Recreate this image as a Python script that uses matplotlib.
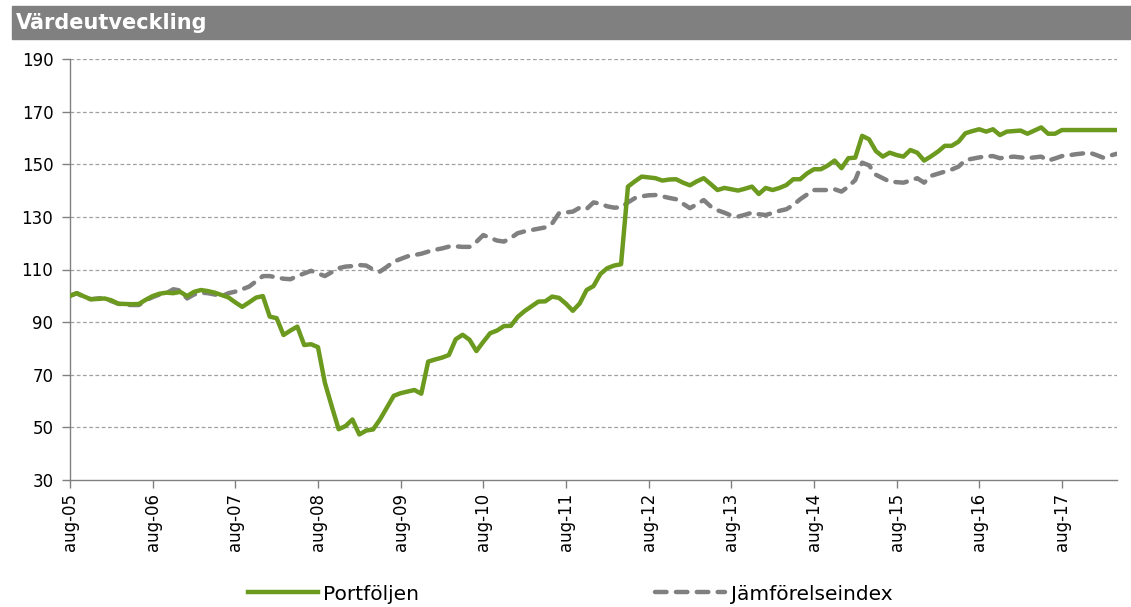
import numpy as np
import matplotlib
matplotlib.use("Agg")
import matplotlib.pyplot as plt
from matplotlib.patches import Rectangle

# monthly index values, aug-05 .. dec-17
portfoljen = [
    100, 101, 99.8, 98.7, 98.8, 99, 98.3, 97, 96.9, 96.8,
    96.9, 98.5, 99.9, 100.8, 101.2, 101, 101.5, 99.9, 101.5, 102.2,
    101.8, 101.2, 100.3, 99.4, 97.5, 95.8, 97.5, 99.3, 99.9, 92.1,
    91.5, 85.1, 86.8, 88.3, 81.3, 81.6, 80.5, 67, 58, 49.3,
    50.5, 53, 47.3, 48.8, 49.2, 53, 57.5, 62, 63, 63.6,
    64.2, 62.8, 75, 75.8, 76.5, 77.5, 83.5, 85.2, 83.3, 79,
    82.5, 85.8, 86.8, 88.5, 88.6, 92, 94.2, 96, 97.8, 97.9,
    99.7, 99.2, 97, 94.3, 97.1, 102.2, 103.7, 108.3, 110.5, 111.5,
    112, 141.5, 143.5, 145.3, 145, 144.7, 143.8, 144.2, 144.3, 143,
    142, 143.5, 144.7, 142.5, 140.2, 141, 140.5, 140, 140.7, 141.5,
    138.7, 141, 140.2, 141, 142.1, 144.3, 144.3, 146.5, 148.1, 148.1,
    149.5, 151.4, 148.5, 152.3, 152.5, 160.8, 159.5, 155, 152.9, 154.4,
    153.5, 152.9, 155.4, 154.4, 151.4, 153, 154.8, 157, 157, 158.6,
    161.8, 162.6, 163.3, 162.4, 163.3, 161.1, 162.4, 162.6, 162.8, 161.6,
    162.8, 164, 161.6, 161.6, 163, 163, 163, 163, 163, 163,
    163, 163, 163,
]
jamforelseindex = [
    100, 101, 99.5, 98.7, 99, 99.2, 98, 97, 96.5, 96.5,
    96.5, 98.3, 99.5, 100.5, 101, 102.5, 102, 99, 100.5, 101.2,
    101, 100.5, 99.8, 101, 101.6, 102.5, 103.5, 105.5, 107.5, 107.5,
    107, 106.5, 106.3, 107.5, 108.5, 109.5, 108.5, 107.5, 109, 110.5,
    111.1, 111.3, 111.7, 111.5, 110, 109.2, 111, 113, 114, 115,
    115.5, 116, 116.8, 117.5, 118, 118.7, 118.8, 118.6, 118.6, 120.5,
    123.1, 122, 121, 120.6, 122, 123.8, 124.5, 125, 125.5, 126,
    127.5, 131.4, 131.7, 132, 133.5, 133, 135.5, 135, 134, 133.5,
    133.6, 135.5, 137.1, 137.8, 138.2, 138.3, 137.8, 137.2, 136.7, 135,
    133.3, 134.8, 136.4, 134, 132.5, 131.6, 130.5, 130.1, 130.8, 131.6,
    131, 130.7, 131.5, 132.3, 132.9, 134.5, 136.7, 138.5, 140.2, 140.2,
    140.2, 140.5, 139.6, 141.5, 144, 150.6, 149.6, 146, 144.7, 143.4,
    143.2, 143, 143.8, 144.7, 143, 145.6, 146.4, 147.2, 148, 149.1,
    151.6, 152.1, 152.6, 153, 153.1, 152.3, 152.6, 152.9, 152.6, 152.3,
    152.6, 152.9, 151.4, 152.2, 153.1, 153.4, 153.8, 154.1, 154.4, 153.5,
    152.5, 153.3, 154,
]
tick_labels = ["aug-05", "aug-06", "aug-07", "aug-08", "aug-09", "aug-10", "aug-11",
               "aug-12", "aug-13", "aug-14", "aug-15", "aug-16", "aug-17"]
y_ticks = [30, 50, 70, 90, 110, 130, 150, 170, 190]

GREEN = "#6b9a1f"
GREY = "#808080"

fig = plt.figure(figsize=(11.31, 6.07), dpi=100)
ax = fig.add_axes([70/1131, 1-480/607, (1117-70)/1131, (480-59)/607])

# title bar
fig.patches.append(Rectangle((12/1131, 1-39/607), 1-12/1131, 33/607,
                             transform=fig.transFigure, color=GREY, zorder=0))
fig.text(16/1131, 1-23/607, "Värdeutveckling", color="white", fontsize=15,
         fontweight="bold", va="center", ha="left")

x = np.arange(len(portfoljen))
ax.plot(x, portfoljen, color=GREEN, lw=3.2, solid_joinstyle="round",
        label="Portföljen", zorder=3)
ax.plot(x, jamforelseindex, color=GREY, lw=3.2, dashes=(2.6, 2.1),
        dash_capstyle="round", label="Jämförelseindex", zorder=2)

ax.set_xlim(0, len(portfoljen) - 1)
ax.set_ylim(30, 190)
ax.set_yticks(y_ticks)
ax.set_xticks(np.arange(0, len(portfoljen), 12))
ax.set_xticklabels(tick_labels, rotation=90)
ax.tick_params(axis="both", labelsize=12, color=GREY, length=6, width=1)
ax.tick_params(axis="y", pad=6)

for v in y_ticks[1:]:
    ax.axhline(v, color="#a0a0a0", lw=0.9, ls=(0, (3, 2)), zorder=1)

for s in ["top", "right"]:
    ax.spines[s].set_visible(False)
for s in ["left", "bottom"]:
    ax.spines[s].set_color(GREY)
    ax.spines[s].set_linewidth(1)

fig.legend(loc="center", bbox_to_anchor=(570/1131, 1-594/607), ncol=2,
           frameon=False, fontsize=14.5, handlelength=3.5, handletextpad=0.25,
           columnspacing=11.7)

fig.savefig("out.png", dpi=100)
